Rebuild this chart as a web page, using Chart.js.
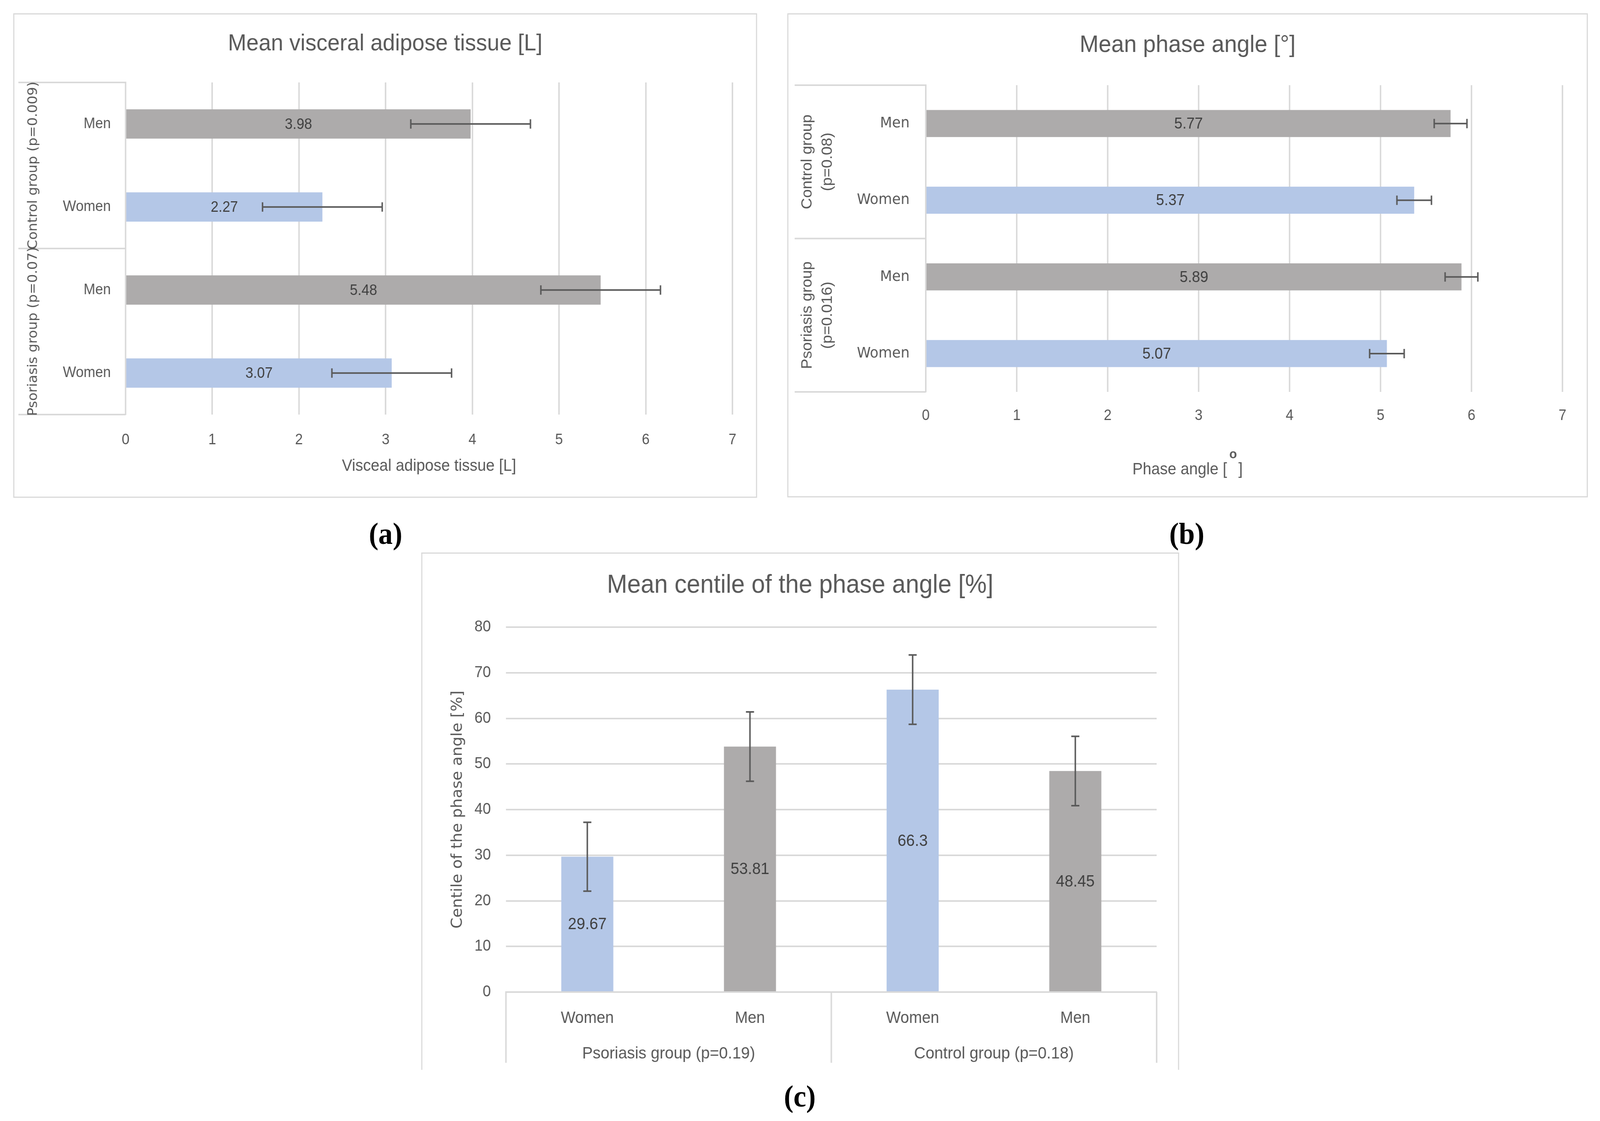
<!DOCTYPE html>
<html>
<head>
<meta charset="utf-8">
<script src="https://cdn.jsdelivr.net/npm/chart.js@4.4.1/dist/chart.umd.min.js"></script>
<style>
  html, body { margin: 0; padding: 0; background: #fff; overflow: hidden; }
  #page { width: 4345px; height: 2869px; position: relative; transform-origin: 0 0; }
  .panel { position: absolute; border: 3px solid #d9d9d9; box-sizing: border-box; background: #fff; }
  .panel canvas { position: absolute; left: 0; top: 0; }
  .tag { position: absolute; font: bold 78px 'Liberation Serif', 'DejaVu Serif', serif; color: #000; transform: translate(-50%, -50%); line-height: 1; }
</style>
</head>
<body>
<div id="page">
<div class="panel" style="left:36px;top:34px;width:2020px;height:1240px"><canvas id="chartA" width="2014" height="1234"></canvas></div>
<div class="panel" style="left:2138px;top:34px;width:2174px;height:1239px"><canvas id="chartB" width="2168" height="1233"></canvas></div>
<div class="panel" style="left:1144px;top:1414px;width:2058px;height:1324px;border-bottom:none"><canvas id="chartC" width="2052" height="1321"></canvas></div>
<div class="tag" style="left:1047px;top:1366px">(a)</div>
<div class="tag" style="left:3223px;top:1366px">(b)</div>
<div class="tag" style="left:2172px;top:2806px">(c)</div>
</div>
<script>
// (a) visceral adipose tissue, rows top to bottom
const vatLabels = ['Men', 'Women', 'Men', 'Women'];
const vatGroups = [['Control group (p=0.009)'], ['Psoriasis group (p=0.07)']];
const vatValues = [3.98, 2.27, 5.48, 3.07];
const vatErrors = [0.69, 0.69, 0.69, 0.69];

// (b) phase angle
const paLabels = ['Men', 'Women', 'Men', 'Women'];
const paGroups = [['Control group', '(p=0.08)'], ['Psoriasis group', '(p=0.016)']];
const paValues = [5.77, 5.37, 5.89, 5.07];
const paErrors = [0.18, 0.19, 0.18, 0.19];

// (c) centile of the phase angle
const centLabels = ['Women', 'Men', 'Women', 'Men'];
const centGroups = ['Psoriasis group (p=0.19)', 'Control group (p=0.18)'];
const centValues = [29.67, 53.81, 66.3, 48.45];
const centErrors = [7.55, 7.6, 7.6, 7.6];

const hTicks = [0, 1, 2, 3, 4, 5, 6, 7];
const vTicks = [0, 10, 20, 30, 40, 50, 60, 70, 80];

const MEN = '#ADABAB';
const WOMEN = '#B4C7E7';
const GRID = '#D9D9D9';
const TEXT = '#595959';
const SANS = "'Liberation Sans', Arial, sans-serif";
const WIDE = "'DejaVu Sans', Verdana, sans-serif";

// the window is not always 4345 wide, stretch the layout onto it
const sx = window.innerWidth / 4345;
const sy = window.innerHeight / 2869;
document.getElementById('page').style.transform = 'scale(' + sx + ',' + sy + ')';

Chart.defaults.font.family = SANS;
Chart.defaults.color = TEXT;

const barColors = labels => labels.map(l => l === 'Men' ? MEN : WOMEN);

// title centred on the whole panel, not only on the plot
const chartTitle = (text, size, y) => ({
    id: 'chartTitle',
    afterDraw(chart) {
        const { ctx } = chart;
        ctx.save();
        ctx.fillStyle = TEXT;
        ctx.font = size + 'px ' + SANS;
        ctx.textAlign = 'center';
        ctx.textBaseline = 'middle';
        ctx.fillText(text, chart.width / 2, y);
        ctx.restore();
    }
});

// whisker for every bar, value +/- error
const errorBars = (errors, cap) => ({
    id: 'errorBars',
    afterDatasetsDraw(chart) {
        const { ctx } = chart;
        const horizontal = chart.options.indexAxis === 'y';
        const scale = horizontal ? chart.scales.x : chart.scales.y;
        const values = chart.data.datasets[0].data;
        ctx.save();
        ctx.strokeStyle = TEXT;
        ctx.lineWidth = 4;
        chart.getDatasetMeta(0).data.forEach((bar, i) => {
            const lo = scale.getPixelForValue(values[i] - errors[i]);
            const hi = scale.getPixelForValue(values[i] + errors[i]);
            ctx.beginPath();
            if (horizontal) {
                ctx.moveTo(lo, bar.y); ctx.lineTo(hi, bar.y);
                ctx.moveTo(lo, bar.y - cap / 2); ctx.lineTo(lo, bar.y + cap / 2);
                ctx.moveTo(hi, bar.y - cap / 2); ctx.lineTo(hi, bar.y + cap / 2);
            } else {
                ctx.moveTo(bar.x, lo); ctx.lineTo(bar.x, hi);
                ctx.moveTo(bar.x - cap / 2, lo); ctx.lineTo(bar.x + cap / 2, lo);
                ctx.moveTo(bar.x - cap / 2, hi); ctx.lineTo(bar.x + cap / 2, hi);
            }
            ctx.stroke();
        });
        ctx.restore();
    }
});

// value printed in the middle of each bar
const valueLabels = size => ({
    id: 'valueLabels',
    afterDatasetsDraw(chart) {
        const { ctx } = chart;
        const horizontal = chart.options.indexAxis === 'y';
        const values = chart.data.datasets[0].data;
        ctx.save();
        ctx.fillStyle = '#404040';
        ctx.font = size + 'px ' + SANS;
        ctx.textAlign = 'center';
        ctx.textBaseline = 'middle';
        chart.getDatasetMeta(0).data.forEach((bar, i) => {
            const x = horizontal ? (bar.x + bar.base) / 2 : bar.x;
            const y = horizontal ? bar.y : (bar.y + bar.base) / 2;
            ctx.fillText(String(values[i]), x, y + 2);
        });
        ctx.restore();
    }
});

// second level of the category axis for the horizontal charts
const rowGroups = (groups, font, xs, lineStart) => ({
    id: 'rowGroups',
    afterDraw(chart) {
        const { ctx, chartArea, scales: { y } } = chart;
        const mid = (y.getPixelForValue(1) + y.getPixelForValue(2)) / 2;
        ctx.save();
        ctx.strokeStyle = GRID;
        ctx.lineWidth = 4;
        [chartArea.top, mid, chartArea.bottom].forEach(yy => {
            ctx.beginPath();
            ctx.moveTo(lineStart, yy);
            ctx.lineTo(chartArea.left, yy);
            ctx.stroke();
        });
        ctx.fillStyle = TEXT;
        ctx.font = font;
        ctx.textAlign = 'center';
        ctx.textBaseline = 'middle';
        groups.forEach((lines, g) => {
            const cy = (y.getPixelForValue(2 * g) + y.getPixelForValue(2 * g + 1)) / 2;
            lines.forEach((txt, k) => {
                ctx.save();
                ctx.translate(xs[k], cy);
                ctx.rotate(-Math.PI / 2);
                ctx.fillText(txt, 0, 0);
                ctx.restore();
            });
        });
        ctx.restore();
    }
});

// second level of the category axis for the column chart
const colGroups = (groups, textY, lineEnd) => ({
    id: 'colGroups',
    afterDraw(chart) {
        const { ctx, chartArea, scales: { x } } = chart;
        const mid = (x.getPixelForValue(1) + x.getPixelForValue(2)) / 2;
        ctx.save();
        ctx.strokeStyle = GRID;
        ctx.lineWidth = 4;
        [chartArea.left, mid, chartArea.right].forEach(xx => {
            ctx.beginPath();
            ctx.moveTo(xx, chartArea.bottom);
            ctx.lineTo(xx, lineEnd);
            ctx.stroke();
        });
        ctx.fillStyle = TEXT;
        ctx.font = '43px ' + SANS;
        ctx.textAlign = 'center';
        ctx.textBaseline = 'middle';
        groups.forEach((txt, g) => {
            const cx = (x.getPixelForValue(2 * g) + x.getPixelForValue(2 * g + 1)) / 2;
            ctx.fillText(txt, cx, textY);
        });
        ctx.restore();
    }
});

// "Phase angle [ ° ]" with the raised o as in the original
const degreeTitle = {
    id: 'degreeTitle',
    afterDraw(chart) {
        const { ctx, width } = chart;
        const y = 1165;
        ctx.save();
        ctx.fillStyle = TEXT;
        ctx.font = '42px ' + SANS;
        ctx.textBaseline = 'middle';
        const left = 'Phase angle [';
        const gap = 31;
        const w1 = ctx.measureText(left).width;
        const w2 = ctx.measureText(']').width;
        const x0 = width / 2 - (w1 + gap + w2) / 2;
        ctx.fillText(left, x0, y);
        ctx.fillText(']', x0 + w1 + gap, y);
        ctx.font = 'bold 34px ' + SANS;
        ctx.textAlign = 'center';
        ctx.fillText('o', x0 + w1 + gap / 2 + 1, y - 38);
        ctx.restore();
    }
};

const fixed = (w, h) => s => {
    if (w !== null) s.width = w;
    if (h !== null) s.height = h;
    s.paddingLeft = 0; s.paddingRight = 0; s.paddingTop = 0; s.paddingBottom = 0;
};

function horizontalChart(id, cfg) {
    return new Chart(document.getElementById(id), {
        type: 'bar',
        data: {
            labels: cfg.labels,
            datasets: [{ data: cfg.values, backgroundColor: barColors(cfg.labels), barPercentage: 0.353, categoryPercentage: 1 }]
        },
        options: {
            indexAxis: 'y',
            responsive: false,
            animation: false,
            layout: { padding: { left: 0, right: cfg.right, top: cfg.top, bottom: 0 } },
            plugins: {
                legend: { display: false },
                tooltip: { enabled: false },
                title: { display: false }
            },
            scales: {
                x: {
                    min: hTicks[0], max: hTicks[hTicks.length - 1],
                    afterBuildTicks: s => { s.ticks = hTicks.map(v => ({ value: v })); },
                    grid: { color: GRID, lineWidth: 4, drawTicks: false },
                    border: { display: false },
                    ticks: { font: { size: 38 }, padding: cfg.tickPad },
                    title: cfg.axisTitle,
                    afterFit: fixed(null, cfg.bottom)
                },
                y: {
                    grid: { display: false, drawTicks: false },
                    border: { display: true, color: GRID, width: 4 },
                    ticks: { font: cfg.catFont, padding: cfg.catPad },
                    afterFit: fixed(cfg.left, null)
                }
            }
        },
        plugins: cfg.plugins
    });
}

horizontalChart('chartA', {
    labels: vatLabels, values: vatValues,
    left: 302, right: 64, top: 174, bottom: 210, tickPad: 43, catPad: 40,
    catFont: { family: SANS, size: 38 },
    axisTitle: { display: true, text: 'Visceal adipose tissue [L]', font: { size: 42 }, padding: { top: 0, bottom: 52 } },
    plugins: [chartTitle('Mean visceral adipose tissue [L]', 60, 75), errorBars(vatErrors, 24), valueLabels(38),
        rowGroups(vatGroups, '35px ' + WIDE, [52], 11)]
});

horizontalChart('chartB', {
    labels: paLabels, values: paValues,
    left: 373, right: 66, top: 181, bottom: 267, tickPad: 39, catPad: 44,
    catFont: { family: WIDE, size: 38 },
    axisTitle: { display: false },
    plugins: [chartTitle('Mean phase angle [°]', 62, 79), errorBars(paErrors, 24), valueLabels(40),
        rowGroups(paGroups, '40px ' + SANS, [52, 107], 17), degreeTitle]
});

new Chart(document.getElementById('chartC'), {
    type: 'bar',
    data: {
        labels: centLabels,
        datasets: [{ data: centValues, backgroundColor: barColors(centLabels), barPercentage: 0.32, categoryPercentage: 1 }]
    },
    options: {
        responsive: false,
        animation: false,
        layout: { padding: { left: 0, right: 58, top: 188, bottom: 0 } },
        plugins: {
            legend: { display: false },
            tooltip: { enabled: false },
            title: { display: false }
        },
        scales: {
            x: {
                grid: { display: false, drawTicks: false },
                border: { display: true, color: GRID, width: 4 },
                ticks: { font: { size: 42 }, padding: 42 },
                afterFit: fixed(null, 199)
            },
            y: {
                min: vTicks[0], max: vTicks[vTicks.length - 1],
                afterBuildTicks: s => { s.ticks = vTicks.map(v => ({ value: v })); },
                grid: { color: GRID, lineWidth: 4, drawTicks: false },
                border: { display: false },
                ticks: { font: { size: 40 }, padding: 41 },
                title: { display: true, text: 'Centile of the phase angle [%]', font: { family: WIDE, size: 40 }, padding: { top: 73, bottom: 0 } },
                afterFit: fixed(227, null)
            }
        }
    },
    plugins: [chartTitle('Mean centile of the phase angle [%]', 66, 82), errorBars(centErrors, 22), valueLabels(42),
        colGroups(centGroups, 1280, 1303)]
});
</script>
</body>
</html>
